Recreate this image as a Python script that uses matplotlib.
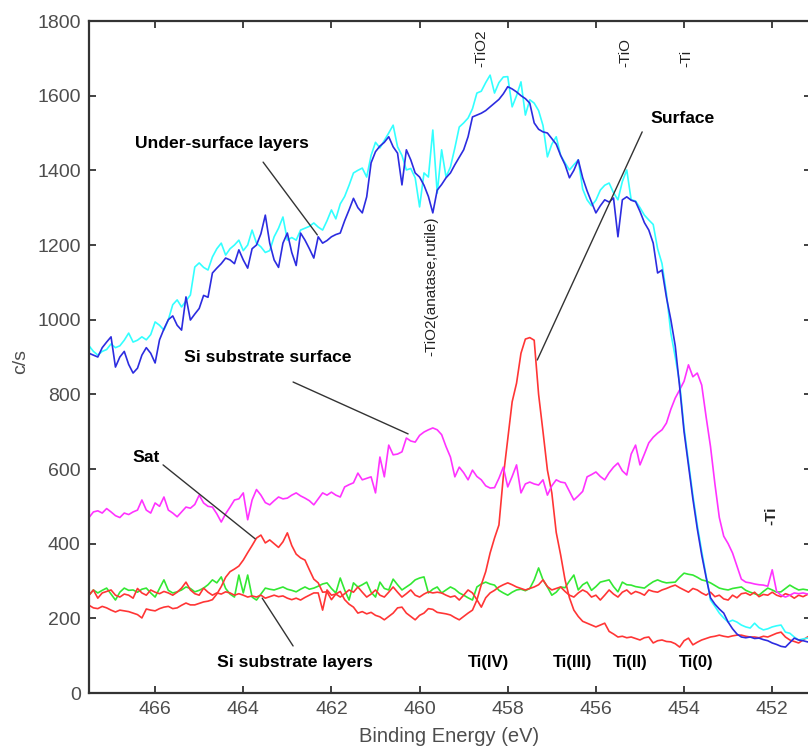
import numpy as np
import matplotlib
matplotlib.use("Agg")
import matplotlib.pyplot as plt

plt.rcParams['font.family'] = ['Liberation Sans', 'DejaVu Sans']

# Binding energy grid (eV), 0.1 eV step, high -> low
energy = np.round(np.arange(467.5, 451.15, -0.1), 1)

under_surface_a = [  # dark blue
    910, 905, 900, 925, 940, 954, 873, 900, 915, 880,
    857, 870, 905, 925, 910, 884, 946, 975, 1000, 1010,
    985, 972, 1061, 999, 1015, 1030, 1065, 1060, 1125, 1138,
    1150, 1165, 1160, 1150, 1187, 1160, 1138, 1190, 1200, 1230,
    1280, 1205, 1160, 1140, 1205, 1232, 1180, 1145, 1232, 1213,
    1190, 1165, 1222, 1205, 1212, 1222, 1228, 1232, 1265, 1294,
    1325, 1300, 1286, 1329, 1420, 1450, 1465, 1475, 1490, 1463,
    1446, 1361, 1455, 1428, 1393, 1382, 1360, 1330, 1286, 1347,
    1362, 1380, 1393, 1415, 1435, 1455, 1490, 1543, 1548, 1553,
    1560, 1570, 1580, 1590, 1605, 1624, 1618, 1610, 1600, 1592,
    1580, 1527, 1510, 1503, 1500, 1485, 1470, 1440, 1415, 1380,
    1400, 1428, 1380, 1345, 1315, 1286, 1305, 1321, 1315, 1326,
    1222, 1321, 1329, 1320, 1316, 1290, 1260, 1240, 1205, 1125,
    1133, 1060, 1000, 930, 820, 700, 610, 520, 440, 370,
    310, 255, 238, 225, 214, 190, 172, 158, 150, 148,
    150, 146, 147, 143, 140, 134, 130, 125, 123, 135,
    147, 142, 140, 137]

under_surface_b = [  # cyan
    930, 915, 905, 915, 920, 935, 925, 930, 945, 964,
    940, 945, 954, 946, 960, 994, 985, 972, 1000, 1040,
    1053, 1034, 1050, 1066, 1141, 1152, 1140, 1133, 1168, 1190,
    1205, 1173, 1190, 1200, 1213, 1185, 1200, 1240, 1205, 1195,
    1180, 1185, 1222, 1245, 1275, 1213, 1220, 1213, 1240, 1245,
    1250, 1259, 1248, 1240, 1265, 1294, 1270, 1310, 1330, 1360,
    1393, 1400, 1406, 1382, 1440, 1475, 1460, 1480, 1500, 1521,
    1463, 1440, 1401, 1405, 1380, 1302, 1393, 1382, 1508, 1339,
    1455, 1382, 1409, 1460, 1516, 1527, 1540, 1565, 1607, 1612,
    1635, 1655, 1607, 1635, 1650, 1651, 1570, 1600, 1637, 1548,
    1589, 1580, 1560, 1520, 1436, 1470, 1490, 1440, 1420, 1401,
    1415, 1428, 1350, 1321, 1305, 1320, 1347, 1360, 1366, 1340,
    1321, 1370, 1401, 1321, 1318, 1300, 1280, 1267, 1255, 1190,
    1150, 1070, 964, 900, 830, 710, 620, 530, 450, 380,
    315, 249, 232, 214, 201, 190, 195, 190, 182, 177,
    174, 187, 175, 169, 172, 177, 180, 182, 163, 160,
    150, 142, 145, 147]

si_substrate_surface = [  # magenta
    470, 485, 488, 482, 494, 485, 475, 470, 482, 478,
    485, 490, 517, 490, 482, 509, 500, 525, 490, 482,
    472, 485, 498, 495, 505, 530, 509, 500, 498, 480,
    458, 480, 498, 517, 520, 536, 464, 517, 545, 530,
    510, 504, 515, 525, 520, 522, 530, 536, 528, 522,
    515, 504, 520, 536, 530, 538, 530, 525, 552, 558,
    563, 589, 571, 575, 579, 536, 632, 579, 664, 638,
    640, 646, 683, 675, 672, 690, 699, 705, 710, 705,
    692, 660, 632, 579, 605, 590, 571, 597, 580, 571,
    555, 549, 550, 575, 605, 552, 580, 611, 536, 560,
    565, 560, 557, 571, 530, 555, 571, 565, 563, 540,
    517, 528, 540, 579, 585, 592, 580, 571, 590, 605,
    616, 595, 584, 640, 664, 611, 640, 670, 685, 696,
    705, 723, 760, 790, 812, 835, 879, 847, 857, 825,
    740, 660, 560, 470, 420, 400, 375, 340, 305, 297,
    295, 292, 290, 289, 286, 330, 272, 262, 257, 262,
    268, 266, 268, 265]

surface = [  # red, with satellite and Ti(IV) peak
    235, 228, 226, 232, 228, 222, 217, 222, 220, 218,
    214, 210, 201, 225, 222, 220, 226, 230, 232, 226,
    228, 235, 241, 236, 236, 240, 244, 246, 250, 265,
    285, 310, 325, 332, 340, 356, 376, 395, 415, 423,
    402, 410, 400, 390, 405, 429, 395, 372, 362, 356,
    330, 305, 295, 270, 271, 250, 265, 272, 250, 238,
    230, 214, 218, 212, 216, 208, 204, 196, 205, 214,
    228, 230, 214, 205, 196, 208, 214, 226, 224, 216,
    214, 212, 209, 202, 196, 205, 214, 222, 249, 290,
    325, 375, 415, 450, 580, 680, 780, 830, 910, 948,
    952, 945, 800, 700, 597, 536, 430, 370, 303, 255,
    222, 205, 192, 187, 182, 177, 182, 187, 165, 158,
    150, 152, 148, 150, 146, 142, 148, 150, 134, 140,
    142, 138, 137, 132, 123, 140, 147, 129, 136, 142,
    146, 150, 152, 155, 152, 150, 153, 155, 155, 152,
    150, 150, 148, 152, 150, 155, 160, 163, 150, 142,
    138, 134, 142, 150]

si_substrate_layers_red = [
    262, 276, 254, 268, 272, 276, 262, 257, 265, 262,
    254, 280, 268, 262, 276, 270, 266, 272, 268, 262,
    270, 281, 297, 276, 266, 262, 281, 270, 262, 268,
    265, 271, 268, 262, 266, 262, 257, 260, 257, 262,
    254, 258, 262, 258, 260, 254, 250, 254, 249, 256,
    262, 268, 268, 222, 276, 262, 265, 257, 266, 276,
    270, 284, 270, 257, 265, 276, 262, 257, 270, 284,
    270, 257, 266, 276, 262, 257, 265, 271, 268, 270,
    268, 262, 257, 260, 249, 262, 276, 268, 250, 230,
    255, 268, 275, 284, 290, 295, 290, 284, 280, 276,
    280, 284, 290, 303, 285, 276, 280, 284, 272, 262,
    257, 268, 276, 270, 257, 262, 249, 262, 276, 265,
    257, 270, 276, 265, 272, 268, 262, 276, 272, 270,
    276, 280, 285, 289, 282, 276, 270, 280, 276, 268,
    262, 270, 258, 262, 252, 249, 262, 255, 266, 268,
    262, 270, 258, 264, 262, 270, 262, 258, 266, 262,
    254, 262, 258, 264]

si_substrate_layers_green = [
    262, 276, 268, 275, 281, 265, 249, 270, 281, 275,
    276, 270, 278, 281, 268, 257, 280, 303, 275, 268,
    271, 276, 284, 280, 271, 275, 281, 290, 303, 295,
    311, 280, 265, 257, 316, 268, 316, 257, 249, 265,
    281, 278, 276, 280, 284, 278, 275, 271, 278, 284,
    278, 281, 286, 292, 295, 280, 268, 308, 276, 249,
    295, 284, 290, 297, 270, 257, 297, 280, 276, 305,
    290, 276, 284, 292, 303, 308, 311, 268, 278, 284,
    268, 276, 284, 278, 268, 262, 255, 249, 284, 292,
    297, 292, 289, 275, 268, 262, 270, 276, 278, 274,
    280, 303, 335, 303, 284, 262, 270, 284, 282, 300,
    316, 276, 290, 297, 275, 285, 297, 300, 303, 285,
    271, 297, 290, 289, 285, 283, 281, 290, 298, 303,
    298, 295, 296, 297, 310, 321, 318, 316, 310, 303,
    300, 295, 288, 281, 278, 276, 280, 282, 284, 275,
    270, 266, 262, 272, 281, 276, 270, 271, 280, 289,
    282, 276, 278, 276]

x_ticks = [466, 464, 462, 460, 458, 456, 454, 452]
y_ticks = [0, 200, 400, 600, 800, 1000, 1200, 1400, 1600, 1800]

W, H = 808, 749
fig = plt.figure(figsize=(W / 100, H / 100), dpi=100)
ax = fig.add_axes([89 / W, 56 / H, 722 / W, 672 / H])

lw = 1.2
ax.plot(energy, si_substrate_layers_green, color='#33e833', lw=lw)
ax.plot(energy, si_substrate_layers_red, color='#ff3535', lw=lw)
ax.plot(energy, surface, color='#ff3535', lw=lw)
ax.plot(energy, si_substrate_surface, color='#ff33ff', lw=lw)
ax.plot(energy, under_surface_b, color='#33ffff', lw=lw)
ax.plot(energy, under_surface_a, color='#2c2ce0', lw=lw)

ax.set_xlim(467.5, 451.12)
ax.set_ylim(0, 1800)
ax.set_xticks(x_ticks)
ax.set_yticks(y_ticks)
ax.tick_params(direction='in', length=5, width=1.3, color='#333333',
               labelcolor='#4d4d4d', labelsize=14, top=True, right=True, pad=6)
for s in ax.spines.values():
    s.set_color('#333333')
    s.set_linewidth(1.6)

fig.text(449.5 / W, 1 - 737 / H, 'Binding Energy (eV)', ha='center', va='center',
         fontsize=14.5, color='#4d4d4d')
fig.text(21 / W, 1 - 362 / H, 'c/s', ha='center', va='center', rotation=90,
         fontsize=14, color='#4d4d4d')

bold = dict(fontsize=12.6, fontweight='bold', color='black')
bold_ti = dict(fontsize=12, fontweight='bold', color='black')
lead = dict(arrowstyle='-', color='#333333', lw=1.0, shrinkA=0, shrinkB=0)

def leader(p0, p1):
    ax.annotate('', xy=p1, xytext=p0, arrowprops=lead)

ax.text(466.45, 1473, 'Under-surface layers', ha='left', va='center', **bold)
leader((463.55, 1422), (462.32, 1227))
ax.text(454.77, 1540, 'Surface', ha='left', va='center', **bold)
leader((454.95, 1503), (457.33, 892))
ax.text(465.34, 900, 'Si substrate surface', ha='left', va='center', **bold)
leader((462.87, 833), (460.26, 694))
ax.text(466.52, 632, 'Sat', ha='left', va='center', **bold)
leader((465.82, 611), (463.73, 413))
ax.text(464.59, 83, 'Si substrate layers', ha='left', va='center', **bold)
leader((462.87, 126), (463.57, 254))

for lab, e in [('Ti(IV)', 458.90), ('Ti(III)', 456.97), ('Ti(II)', 455.61), ('Ti(0)', 454.11)]:
    ax.text(e, 83, lab, ha='left', va='center', **bold_ti)

rot = dict(rotation=90, fontsize=11, color='#222222', ha='center')
ax.text(458.60, 1677, '-TiO2', va='bottom', **rot)
ax.text(455.34, 1677, '-TiO', va='bottom', **rot)
ax.text(453.95, 1677, '-Ti', va='bottom', **rot)
ax.text(459.74, 1275, '-TiO2(anatase,rutile)', va='top', **rot)
ax.text(452.02, 450, '-Ti', va='bottom', rotation=90, fontsize=11,
        fontweight='bold', color='#222222', ha='center')

fig.savefig('out.png', dpi=100)
